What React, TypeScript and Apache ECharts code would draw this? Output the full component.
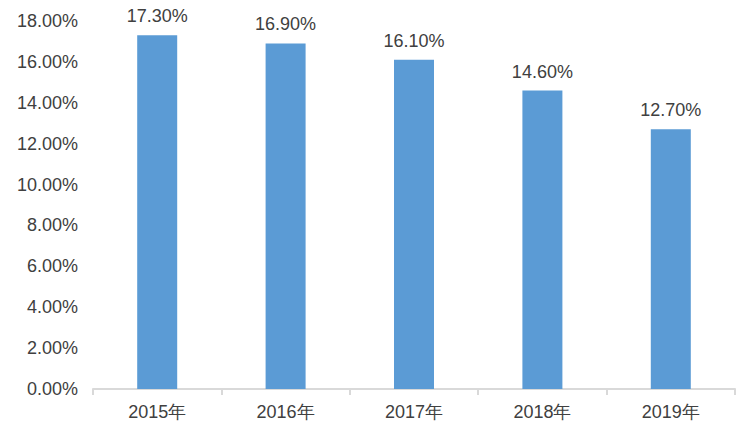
import React, { useEffect, useRef } from "react";
import * as echarts from "echarts";

const categories = ["2015年", "2016年", "2017年", "2018年", "2019年"];
const values = [17.3, 16.9, 16.1, 14.6, 12.7];
const yMin = 0;
const yMax = 18;
const yInterval = 2;

export default function App() {
  const ref = useRef<HTMLDivElement>(null);
  useEffect(() => {
    if (!ref.current) return;
    const chart = echarts.init(ref.current, null, { renderer: "svg" });
    const font = "'Liberation Sans', Arial, Helvetica, sans-serif";
    const fs = 18;
    chart.setOption({
      animation: false,
      backgroundColor: "#ffffff",
      grid: { left: 93, right: 13, top: 21, bottom: 47, containLabel: false },
      xAxis: {
        type: "category",
        data: categories,
        axisLine: { show: true, lineStyle: { color: "#D9D9D9", width: 2 } },
        axisTick: { show: true, alignWithLabel: false, length: 6, lineStyle: { color: "#D9D9D9", width: 2 } },
        axisLabel: { color: "#404040", fontSize: fs, fontFamily: font, margin: 14 },
      },
      yAxis: {
        type: "value",
        min: yMin,
        max: yMax,
        interval: yInterval,
        axisLine: { show: false },
        axisTick: { show: false },
        splitLine: { show: false },
        axisLabel: {
          color: "#404040",
          fontSize: fs,
          fontFamily: font,
          margin: 15,
          formatter: (v: number) => v.toFixed(2) + "%",
        },
      },
      series: [
        {
          type: "bar",
          data: values,
          barWidth: 40,
          itemStyle: { color: "#5B9BD5" },
          label: {
            show: true,
            position: "top",
            distance: 10,
            color: "#404040",
            fontSize: fs,
            fontFamily: font,
            formatter: (p: any) => p.value.toFixed(2) + "%",
          },
        },
      ],
    });
    return () => chart.dispose();
  }, []);
  return <div ref={ref} style={{ width: 748, height: 436, position: "absolute", left: 0, top: 0 }} />;
}
